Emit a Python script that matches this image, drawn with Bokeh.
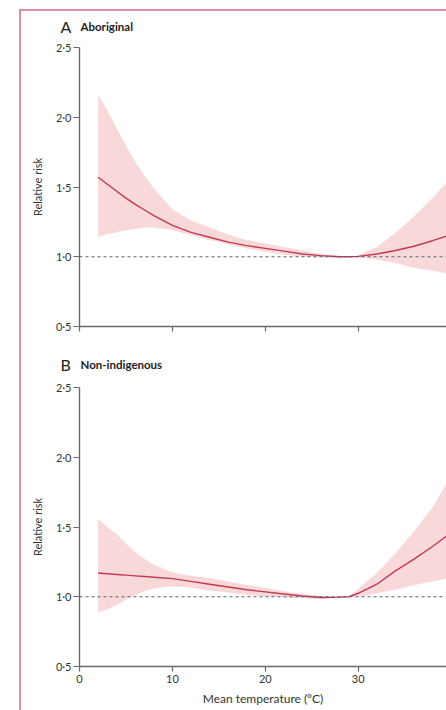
from bokeh.plotting import figure
from bokeh.layouts import column
from bokeh.models import Range1d, FixedTicker, Span
from bokeh.core.properties import value
from bokeh.embed import file_html
from bokeh.resources import INLINE

# Mean temperature (°C) at which the relative risk was read
temperature = [2, 3, 4, 5, 6, 7, 8, 10, 12, 14, 16, 18, 20, 22, 24, 26, 28, 29, 30, 32, 34, 36, 38, 40]

# Panel A: Aboriginal
rr_aboriginal = [1.57, 1.52, 1.47, 1.42, 1.375, 1.335, 1.295, 1.225, 1.175, 1.14, 1.105, 1.08,
                 1.06, 1.04, 1.02, 1.008, 1.0, 1.0, 1.003, 1.02, 1.045, 1.075, 1.115, 1.16]
hi_aboriginal = [2.16, 2.05, 1.92, 1.80, 1.68, 1.58, 1.49, 1.34, 1.26, 1.21, 1.16, 1.12,
                 1.095, 1.07, 1.045, 1.02, 1.005, 1.0, 1.01, 1.07, 1.17, 1.29, 1.42, 1.57]
lo_aboriginal = [1.145, 1.16, 1.175, 1.19, 1.20, 1.21, 1.21, 1.19, 1.155, 1.12, 1.09, 1.06,
                 1.035, 1.015, 1.0, 0.995, 0.995, 1.0, 0.995, 0.98, 0.955, 0.92, 0.90, 0.875]

# Panel B: Non-indigenous
rr_nonindig = [1.17, 1.165, 1.16, 1.155, 1.15, 1.145, 1.14, 1.13, 1.11, 1.09, 1.07, 1.05,
               1.035, 1.02, 1.005, 0.995, 0.997, 1.0, 1.025, 1.09, 1.185, 1.27, 1.36, 1.46]
hi_nonindig = [1.555, 1.50, 1.45, 1.38, 1.32, 1.27, 1.23, 1.175, 1.15, 1.135, 1.11, 1.085,
               1.065, 1.04, 1.02, 1.005, 1.0, 1.0, 1.055, 1.17, 1.31, 1.47, 1.64, 1.87]
lo_nonindig = [0.885, 0.91, 0.94, 0.98, 1.01, 1.04, 1.06, 1.075, 1.065, 1.045, 1.03, 1.015,
               1.0, 0.995, 0.99, 0.985, 0.99, 1.0, 1.0, 1.025, 1.05, 1.085, 1.11, 1.14]

panel_letters = ["A", "B"]
panel_names = ["Aboriginal", "Non-indigenous"]

y_ticks = [0.5, 1.0, 1.5, 2.0, 2.5]
y_tick_labels = ["0·5", "1·0", "1·5", "2·0", "2·5"]
x_ticks = [0, 10, 20, 30, 40]
x_tick_labels = ["0", "10", "20", "30", "40"]

FONT = "Lato"
TEXT = "#333333"
AXIS = "#6a6a6a"
LINE = "#c23a52"
BAND = "#f9d8da"
REF = "#4e6a7a"
WIDTH = 425


def make_heading(letter, name, height, baseline):
    """Thin strip above a panel holding its letter and bold group name."""
    h = figure(width=WIDTH, height=height, output_backend="svg", toolbar_location=None,
               x_range=Range1d(0, WIDTH), y_range=Range1d(0, height),
               x_axis_location=None, y_axis_location=None, frame_align=False,
               min_border_left=0, min_border_right=0, min_border_top=0, min_border_bottom=0)
    h.grid.visible = False
    h.outline_line_color = None
    h.text(x=[39], y=[baseline], text=[letter], text_font=value(FONT),
           text_font_size="16px", text_color="#222222", text_baseline="alphabetic")
    h.text(x=[59], y=[baseline], text=[name], text_font=value(FONT),
           text_font_size="11.5px", text_font_style="bold", text_color="#222222",
           text_baseline="alphabetic")
    return h


def make_panel(rr, lo, hi, height, top, bottom, show_x_labels):
    p = figure(width=WIDTH, height=height, output_backend="svg", toolbar_location=None,
               x_range=Range1d(0, 39.5), y_range=Range1d(0.5, 2.5),
               min_border_left=58, min_border_right=0,
               min_border_top=top, min_border_bottom=bottom)
    p.outline_line_color = None
    p.grid.visible = False
    p.background_fill_color = "white"
    p.border_fill_color = "white"

    p.varea(x=temperature, y1=lo, y2=hi, fill_color=BAND, fill_alpha=1.0)
    p.add_layout(Span(location=1.0, dimension="width", line_color=REF,
                      line_width=1, line_dash="3 3"))
    p.line(temperature, rr, line_color=LINE, line_width=1.4)

    for ax in (p.xaxis[0], p.yaxis[0]):
        ax.axis_line_color = AXIS
        ax.axis_line_width = 1.4
        ax.major_tick_line_color = AXIS
        ax.major_tick_line_width = 1.2
        ax.major_tick_in = 0
        ax.minor_tick_line_color = None
        ax.major_label_text_font = FONT
        ax.major_label_text_font_size = "11px"
        ax.major_label_text_color = TEXT
        ax.axis_label_text_font = FONT
        ax.axis_label_text_font_style = "normal"
        ax.axis_label_text_font_size = "11px"
        ax.axis_label_text_color = TEXT

    p.yaxis.ticker = FixedTicker(ticks=y_ticks)
    p.yaxis.major_label_overrides = dict(zip(y_ticks, y_tick_labels))
    p.yaxis.major_tick_out = 6
    p.yaxis.major_label_standoff = 2
    p.yaxis.axis_label = "Relative risk"
    p.yaxis.axis_label_standoff = 9

    p.xaxis.ticker = FixedTicker(ticks=x_ticks)
    p.xaxis.major_tick_out = 5
    if show_x_labels:
        p.xaxis.major_label_overrides = dict(zip(x_ticks, x_tick_labels))
        p.xaxis.major_label_standoff = 3
        p.xaxis.axis_label = "Mean temperature (°C)"
        p.xaxis.axis_label_standoff = 5
        p.xaxis.axis_label_text_font_size = "12px"
    else:
        # upper panel shares the temperature scale: ticks only
        p.xaxis.major_label_text_color = None
        p.xaxis.major_label_text_font_size = "1px"
    return p


head_a = make_heading(panel_letters[0], panel_names[0], height=28, baseline=13)
pa = make_panel(rr_aboriginal, lo_aboriginal, hi_aboriginal,
                height=306, top=8, bottom=19, show_x_labels=False)
head_b = make_heading(panel_letters[1], panel_names[1], height=34, baseline=15)
pb = make_panel(rr_nonindig, lo_nonindig, hi_nonindig,
                height=331, top=8, bottom=44, show_x_labels=True)

layout = column(head_a, pa, head_b, pb, spacing=0, margin=(9, 0, 0, 19),
                styles={"border-top": "2px solid #dc8ea2", "border-left": "2px solid #dc8ea2"})

open("out.html", "w").write(file_html(layout, INLINE))
